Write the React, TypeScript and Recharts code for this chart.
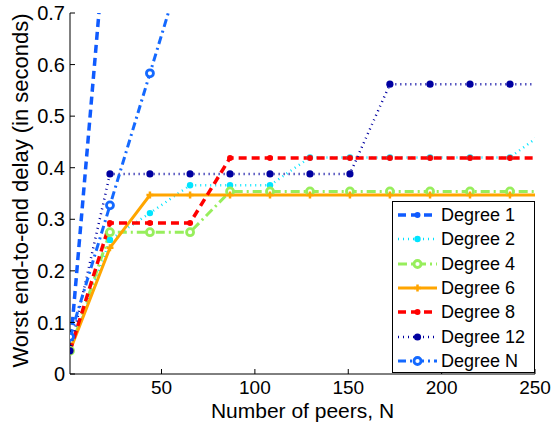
import React from 'react';
import { LineChart, Line, XAxis, YAxis, Legend, Label } from 'recharts';

// Number of peers (x positions of the sampled points)
const peers = [1, 22.4, 43.8, 65.3, 86.7, 108.1, 129.5, 150.9, 172.3, 193.8, 215.2, 236.6, 258];

// Worst end-to-end delay (seconds) per degree
const degree1 = [0.045, 0.95, 1.86];
const degree2 = [0.045, 0.26, 0.312, 0.366, 0.366, 0.366, 0.42, 0.42, 0.42, 0.42, 0.42, 0.42, 0.477];
const degree4 = [0.045, 0.275, 0.275, 0.275, 0.354, 0.354, 0.354, 0.354, 0.354, 0.354, 0.354, 0.354, 0.354];
const degree6 = [0.045, 0.245, 0.347, 0.347, 0.347, 0.347, 0.347, 0.347, 0.347, 0.347, 0.347, 0.347, 0.347];
const degree8 = [0.045, 0.293, 0.293, 0.293, 0.419, 0.419, 0.419, 0.419, 0.419, 0.419, 0.419, 0.419, 0.419];
const degree12 = [0.045, 0.388, 0.388, 0.388, 0.388, 0.388, 0.388, 0.388, 0.562, 0.562, 0.562, 0.562, 0.562];
const degreeN = [0.072, 0.327, 0.583, 0.839];

const xTicks = [50, 100, 150, 200, 250];
const yTicks = [0, 0.1, 0.2, 0.3, 0.4, 0.5, 0.6, 0.7];
const seriesNames = ['Degree 1', 'Degree 2', 'Degree 4', 'Degree 6', 'Degree 8', 'Degree 12', 'Degree N'];

const FONT = "'Liberation Sans', Arial, Helvetica, sans-serif";

const data = peers.map((n, i) => ({
  n,
  d1: degree1[i] ?? null,
  d2: degree2[i] ?? null,
  d4: degree4[i] ?? null,
  d6: degree6[i] ?? null,
  d8: degree8[i] ?? null,
  d12: degree12[i] ?? null,
  dN: degreeN[i] ?? null,
}));

type Marker = 'dot' | 'ring' | 'plus';
interface Series {
  key: string;
  name: string;
  color: string;
  width: number;
  dash?: string;
  marker: Marker;
  size: number;
}

const SERIES: Series[] = [
  { key: 'd1', name: seriesNames[0], color: '#0f5bff', width: 3.5, dash: '8 5', marker: 'dot', size: 3 },
  { key: 'd2', name: seriesNames[1], color: '#00e4ff', width: 2.5, dash: '1 4', marker: 'dot', size: 3.2 },
  { key: 'd4', name: seriesNames[2], color: '#97ee5c', width: 3, dash: '9 4 2 4', marker: 'ring', size: 3.5 },
  { key: 'd6', name: seriesNames[3], color: '#ffa500', width: 3, marker: 'plus', size: 3.5 },
  { key: 'd8', name: seriesNames[4], color: '#ff0000', width: 3.5, dash: '8 5', marker: 'dot', size: 3 },
  { key: 'd12', name: seriesNames[5], color: '#0000a0', width: 2.5, dash: '1 4', marker: 'dot', size: 3.6 },
  { key: 'dN', name: seriesNames[6], color: '#1469ff', width: 3, dash: '8 4 2 4', marker: 'ring', size: 3.5 },
];

function markerShape(s: Series, cx: number, cy: number, key?: any) {
  if (s.marker === 'dot') {
    return <circle key={key} cx={cx} cy={cy} r={s.size} fill={s.color} stroke="none" />;
  }
  if (s.marker === 'ring') {
    return <circle key={key} cx={cx} cy={cy} r={s.size} fill="#fff" stroke={s.color} strokeWidth={2.8} />;
  }
  const h = s.size;
  return (
    <path
      key={key}
      d={`M${cx - h},${cy}H${cx + h}M${cx},${cy - h}V${cy + h}`}
      stroke={s.color}
      strokeWidth={2.5}
      fill="none"
    />
  );
}

function makeDot(s: Series) {
  return (p: any) => {
    const key = `${s.key}-${p.index}`;
    if (p.cx == null || p.cy == null || p.value == null || Number.isNaN(p.cy)) {
      return <g key={key} />;
    }
    return markerShape(s, p.cx, p.cy, key);
  };
}

const LegendBox = () => (
  <div
    style={{
      width: 143,
      height: 172,
      border: '1px solid #000',
      background: '#fff',
      boxSizing: 'border-box',
      paddingTop: 1,
      fontFamily: FONT,
      fontSize: 18,
      color: '#000',
    }}
  >
    {SERIES.map((s) => (
      <div key={s.key} style={{ height: 24.3, display: 'flex', alignItems: 'center' }}>
        <svg width={45} height={24} style={{ flex: 'none', display: 'block' }}>
          <line
            x1={5}
            x2={44}
            y1={12}
            y2={12}
            stroke={s.color}
            strokeWidth={s.width}
            strokeDasharray={s.dash}
          />
          {markerShape(s, 24.5, 12)}
        </svg>
        <span style={{ marginLeft: 3, whiteSpace: 'nowrap', lineHeight: '20px' }}>{s.name}</span>
      </div>
    ))}
  </div>
);

const XLabel = (props: any) => {
  const vb = props.viewBox || {};
  return (
    <text
      x={vb.x + vb.width / 2}
      y={vb.y + 44}
      textAnchor="middle"
      fontSize={21}
      fontFamily={FONT}
      fill="#000"
    >
      Number of peers, N
    </text>
  );
};

const YLabel = (props: any) => {
  const vb = props.viewBox || {};
  const cx = vb.x + 28;
  const cy = vb.y + vb.height / 2 - 3;
  return (
    <text
      x={cx}
      y={cy}
      transform={`rotate(-90 ${cx} ${cy})`}
      textAnchor="middle"
      fontSize={22}
      fontFamily={FONT}
      fill="#000"
    >
      Worst end-to-end delay (in seconds)
    </text>
  );
};

const xTickStyle = { fontSize: 19, fill: '#000', fontFamily: FONT };
const yTickStyle = { fontSize: 20, fill: '#000', fontFamily: FONT };
const axisLine = { stroke: '#000', strokeWidth: 1 };

export default function App() {
  return (
    <div style={{ position: 'absolute', left: 0, top: 0, background: '#fff' }}>
      <LineChart
        width={553}
        height={423}
        data={data}
        margin={{ top: 13, right: 18, bottom: 0, left: 0 }}
        style={{ fontFamily: FONT }}
      >
        <XAxis
          xAxisId="bottom"
          dataKey="n"
          type="number"
          domain={[1, 250]}
          allowDataOverflow
          ticks={xTicks}
          interval={0}
          height={49}
          tickSize={-5}
          tickMargin={12}
          tick={xTickStyle}
          axisLine={axisLine}
          tickLine={{ stroke: '#000' }}
          label={<Label content={XLabel} />}
        />
        <XAxis
          xAxisId="top"
          orientation="top"
          dataKey="n"
          type="number"
          domain={[1, 250]}
          allowDataOverflow
          ticks={xTicks}
          interval={0}
          height={0}
          tickSize={-5}
          tick={false}
          axisLine={axisLine}
          tickLine={{ stroke: '#000' }}
        />
        <YAxis
          yAxisId="left"
          type="number"
          domain={[0, 0.7]}
          allowDataOverflow
          ticks={yTicks}
          interval={0}
          width={70}
          tickSize={-5}
          tickMargin={10}
          tick={yTickStyle}
          tickFormatter={(v: number) => (v === 0 ? '0' : v.toFixed(1))}
          axisLine={axisLine}
          tickLine={{ stroke: '#000' }}
          label={<Label content={YLabel} />}
        />
        <YAxis
          yAxisId="right"
          orientation="right"
          type="number"
          domain={[0, 0.7]}
          allowDataOverflow
          ticks={yTicks}
          interval={0}
          width={0}
          tickSize={-5}
          tick={false}
          axisLine={axisLine}
          tickLine={{ stroke: '#000' }}
        />
        {SERIES.map((s) => (
          <Line
            key={s.key}
            xAxisId="bottom"
            yAxisId="left"
            type="linear"
            dataKey={s.key}
            name={s.name}
            stroke={s.color}
            strokeWidth={s.width}
            strokeDasharray={s.dash}
            dot={makeDot(s)}
            activeDot={false}
            isAnimationActive={false}
            connectNulls={false}
          />
        ))}
        <Legend
          layout="horizontal"
          verticalAlign="middle"
          align="center"
          content={<LegendBox />}
          wrapperStyle={{ left: 392, top: 201, width: 143, height: 172 }}
        />
      </LineChart>
    </div>
  );
}
